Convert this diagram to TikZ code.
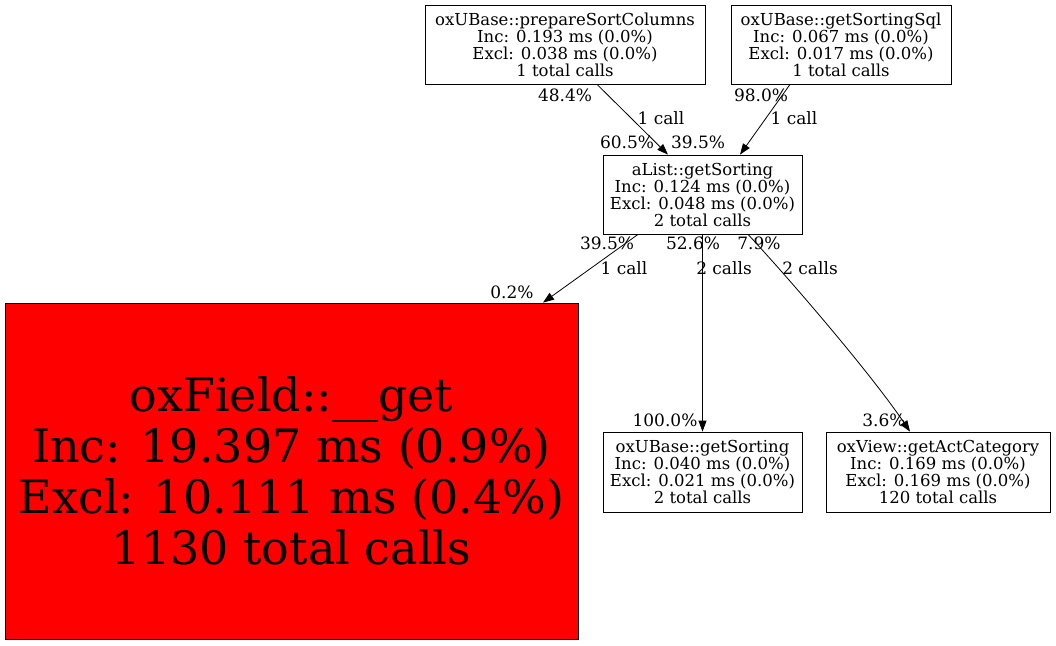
\documentclass[tikz,border=0pt]{standalone}
\usepackage{fontspec}
\setmainfont{DejaVu Serif}
\usetikzlibrary{arrows.meta}

\tikzset{
    fnbox/.style={draw, line width=0.8pt, align=center, inner sep=0pt,
        font=\fontsize{16.5}{17}\selectfont},
    hotbox/.style={draw, line width=0.8pt, fill=red, align=center, inner sep=0pt,
        font=\fontsize{46}{51}\selectfont},
    call/.style={line width=0.8pt, -{Triangle[width=8pt,length=11pt]}},
    pct/.style={font=\fontsize{17}{20}\selectfont, inner sep=0pt},
}

\begin{document}
\begin{tikzpicture}[x=1pt, y=-1pt]
    \useasboundingbox (0,0) rectangle (1056,645);

    % functions
    \node[fnbox, minimum width=280pt, minimum height=79pt] (psc) at (565,44.5) {oxUBase::prepareSortColumns\\Inc: 0.193 ms (0.0\%)\\Excl: 0.038 ms (0.0\%)\\1 total calls};
    \node[fnbox, minimum width=220pt, minimum height=79pt] (gss) at (841,44.5) {oxUBase::getSortingSql\\Inc: 0.067 ms (0.0\%)\\Excl: 0.017 ms (0.0\%)\\1 total calls};
    \node[fnbox, minimum width=199pt, minimum height=79pt] (als) at (702.5,194.5) {aList::getSorting\\Inc: 0.124 ms (0.0\%)\\Excl: 0.048 ms (0.0\%)\\2 total calls};
    \node[hotbox, minimum width=573pt, minimum height=336pt] (get) at (291.5,471) {oxField::\_\_get\\Inc: 19.397 ms (0.9\%)\\Excl: 10.111 ms (0.4\%)\\1130 total calls};
    \node[fnbox, minimum width=199pt, minimum height=80pt] (ubs) at (702.5,472) {oxUBase::getSorting\\Inc: 0.040 ms (0.0\%)\\Excl: 0.021 ms (0.0\%)\\2 total calls};
    \node[fnbox, minimum width=224pt, minimum height=80pt] (gac) at (938,472) {oxView::getActCategory\\Inc: 0.169 ms (0.0\%)\\Excl: 0.169 ms (0.0\%)\\120 total calls};

    % calls
    \draw[call] ([xshift=32pt]psc.south) -- ([xshift=-34.5pt]als.north);
    \draw[call] ([xshift=-51pt]gss.south) -- ([xshift=37.5pt]als.north);
    \draw[call] ([xshift=-64.5pt]als.south) -- ([xshift=251.5pt]get.north);
    \draw[call] (als.south) -- (ubs.north);
    \draw[call] ([xshift=45.5pt]als.south) .. controls +(47:60) and +(-124:70) .. ([xshift=-28pt]gac.north);

    % labels
    \node[pct] (l1) at (565,95) {48.4\%};
    \node[pct] (l2) at (661,118) {1 call};
    \node[pct] (l3) at (627,142) {60.5\%};
    \node[pct] (l4) at (761,95) {98.0\%};
    \node[pct] (l5) at (794,118) {1 call};
    \node[pct] (l6) at (698,142) {39.5\%};
    \node[pct] (l7) at (607,243) {39.5\%};
    \node[pct] (l8) at (624,268) {1 call};
    \node[pct] (l9) at (512,292) {0.2\%};
    \node[pct] (l10) at (693,243) {52.6\%};
    \node[pct] (l11) at (724,268) {2 calls};
    \node[pct] (l12) at (665,420) {100.0\%};
    \node[pct] (l13) at (759,243) {7.9\%};
    \node[pct] (l14) at (810,268) {2 calls};
    \node[pct] (l15) at (884,420) {3.6\%};
\end{tikzpicture}
\end{document}
